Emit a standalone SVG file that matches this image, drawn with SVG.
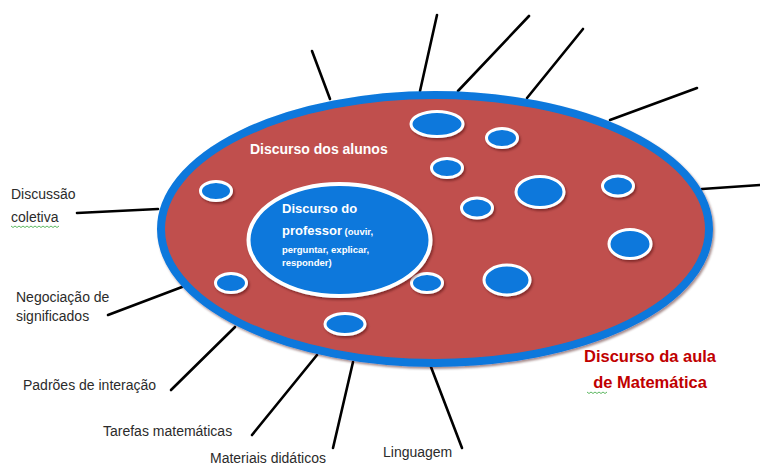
<svg xmlns="http://www.w3.org/2000/svg" width="760" height="466" viewBox="0 0 760 466">
<defs>
<filter id="sh" x="-20%" y="-20%" width="140%" height="150%">
<feDropShadow dx="1.5" dy="2" stdDeviation="1.2" flood-color="#3a1010" flood-opacity="0.45"/>
</filter>
<style>
.ln{stroke:#000;stroke-width:2.6;stroke-linecap:round;fill:none}
.lbl{font-family:"Liberation Sans",Arial,sans-serif;font-size:14px;fill:#2b2b2b}
.sm{fill:#0A78DC;stroke:#fff;stroke-width:3;filter:url(#sh)}
.wt{font-family:"Liberation Sans",Arial,sans-serif;font-weight:bold;fill:#fff}
.red{font-family:"Liberation Sans",Arial,sans-serif;font-weight:bold;font-size:16.5px;fill:#C00000}
.sq{fill:none;stroke:#4CB050;stroke-width:0.9}
</style>
</defs>
<rect width="760" height="466" fill="#fff"/>
<g id="connectors">
<line class="ln" x1="312" y1="51" x2="330" y2="99"/>
<line class="ln" x1="437" y1="15" x2="420" y2="91"/>
<line class="ln" x1="529" y1="16" x2="458" y2="91"/>
<line class="ln" x1="583" y1="29" x2="527" y2="98"/>
<line class="ln" x1="697" y1="88" x2="610" y2="120"/>
<line class="ln" x1="702" y1="189" x2="760" y2="185"/>
<line class="ln" x1="77" y1="213" x2="158" y2="209"/>
<line class="ln" x1="108" y1="315" x2="182" y2="287"/>
<line class="ln" x1="171" y1="390" x2="235" y2="327"/>
<line class="ln" x1="252" y1="435" x2="317" y2="355"/>
<line class="ln" x1="333" y1="448" x2="353" y2="362"/>
<line class="ln" x1="462" y1="448" x2="431" y2="367"/>
</g>
<g id="aula">
<ellipse cx="435" cy="229" rx="274" ry="134" fill="#C0504D" stroke="#0A78DC" stroke-width="8" filter="url(#sh)"/>
</g>
<g id="alunos">
<ellipse class="sm" cx="437" cy="124" rx="26" ry="12.5"/>
<ellipse class="sm" cx="502" cy="138" rx="15.5" ry="9.5"/>
<ellipse class="sm" cx="447" cy="168" rx="15.5" ry="9.5"/>
<ellipse class="sm" cx="540" cy="192" rx="24" ry="15.5"/>
<ellipse class="sm" cx="618" cy="186" rx="15.5" ry="10"/>
<ellipse class="sm" cx="477" cy="208" rx="15.5" ry="10"/>
<ellipse class="sm" cx="630" cy="244" rx="21" ry="14.5"/>
<ellipse class="sm" cx="216" cy="191" rx="15.5" ry="9.5"/>
<ellipse class="sm" cx="231" cy="283" rx="15.5" ry="9.5"/>
<ellipse class="sm" cx="427" cy="283" rx="15.5" ry="9.5"/>
<ellipse class="sm" cx="507" cy="280" rx="23" ry="15"/>
<ellipse class="sm" cx="345" cy="324" rx="20" ry="10.5"/>
<text class="wt" x="250" y="154" font-size="14">Discurso dos alunos</text>
</g>
<g id="professor">
<ellipse cx="339.5" cy="240" rx="91" ry="56" fill="#0A78DC" stroke="#fff" stroke-width="4" filter="url(#sh)"/>
<text class="wt" x="282" y="213" font-size="13">Discurso do</text>
<text class="wt" x="282" y="235" font-size="13">professor<tspan font-size="9.5"> (ouvir,</tspan></text>
<text class="wt" x="282" y="253" font-size="9.5">perguntar, explicar,</text>
<text class="wt" x="282" y="266" font-size="9.5">responder)</text>
</g>
<g id="label-discussao">
<text class="lbl" x="11" y="199">Discussão</text>
<text class="lbl" x="11" y="222">coletiva</text>
<path class="sq" d="M11 226 l2 1.5 l2 -1.5 l2 1.5 l2 -1.5 l2 1.5 l2 -1.5 l2 1.5 l2 -1.5 l2 1.5 l2 -1.5 l2 1.5 l2 -1.5 l2 1.5 l2 -1.5 l2 1.5 l2 -1.5 l2 1.5 l2 -1.5 l2 1.5 l2 -1.5 l2 1.5 l2 -1.5 l2 1.5 l2 -1.5"/>
</g>
<g id="label-negociacao">
<text class="lbl" x="16" y="302">Negociação de</text>
<text class="lbl" x="16" y="321">significados</text>
</g>
<g id="label-padroes">
<text class="lbl" x="23" y="390">Padrões de interação</text>
</g>
<g id="label-tarefas">
<text class="lbl" x="103" y="436">Tarefas matemáticas</text>
</g>
<g id="label-materiais">
<text class="lbl" x="210" y="463">Materiais didáticos</text>
</g>
<g id="label-linguagem">
<text class="lbl" x="383" y="457">Linguagem</text>
</g>
<g id="label-aula">
<text class="red" x="650" y="362" text-anchor="middle">Discurso da aula</text>
<text class="red" x="650" y="388" text-anchor="middle">de Matemática</text>
<path class="sq" d="M587 392 l2 1.5 l2 -1.5 l2 1.5 l2 -1.5 l2 1.5 l2 -1.5 l2 1.5 l2 -1.5 l2 1.5 l2 -1.5"/>
</g>
</svg>
